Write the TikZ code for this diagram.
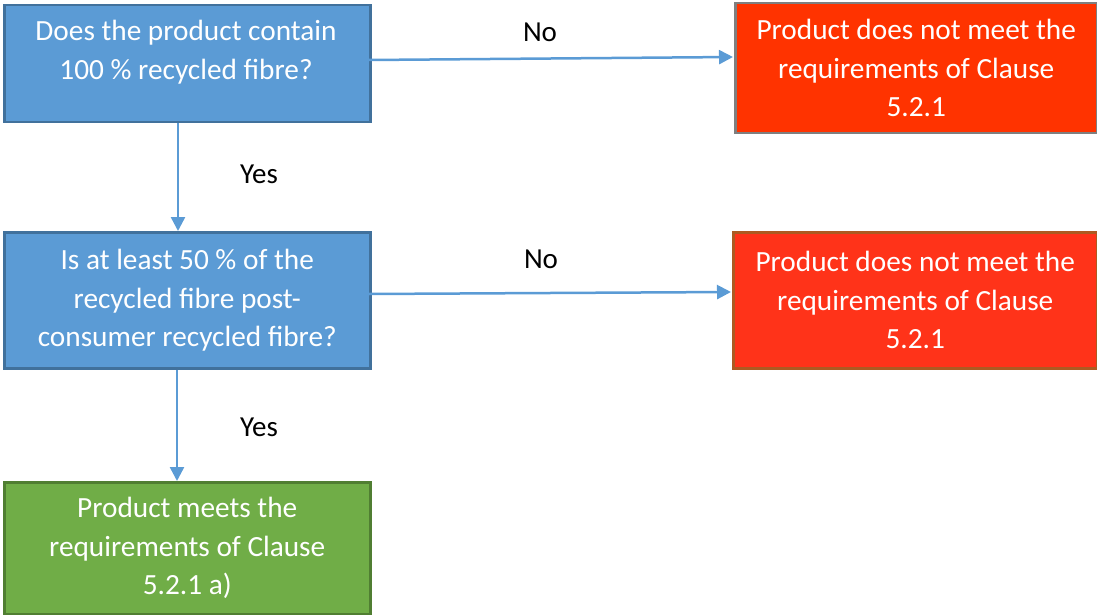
\documentclass[tikz,border=0pt]{standalone}
\usepackage{fontspec}
\setmainfont{Carlito}
\usetikzlibrary{arrows.meta}
\definecolor{bfill}{HTML}{5B9BD5}
\definecolor{bdraw}{HTML}{41719C}
\definecolor{rfillA}{HTML}{FF3300}
\definecolor{rdrawA}{HTML}{7F7F7F}
\definecolor{rfillB}{HTML}{FF3319}
\definecolor{rdrawB}{HTML}{AE5A21}
\definecolor{gfill}{HTML}{70AD47}
\definecolor{gdraw}{HTML}{507E32}
\tikzset{
  box/.style={draw, line width=2.5pt, inner sep=0pt, text=white, align=center,
    font=\fontsize{29.3}{38.5}\selectfont},
  bluebox/.style={box, fill=bfill, draw=bdraw},
  redboxA/.style={box, fill=rfillA, draw=rdrawA},
  redboxB/.style={box, fill=rfillB, draw=rdrawB},
  greenbox/.style={box, fill=gfill, draw=gdraw},
  boxtext/.style={text=white, align=center, inner sep=0pt, font=\fontsize{29.3}{38.5}\selectfont},
  conn/.style={draw=bfill, line width=2.5pt, -{Triangle[length=14pt,width=14pt]}},
  lbl/.style={font=\fontsize{29}{32}\selectfont, text=black}
}
\begin{document}
\begin{tikzpicture}[x=1pt,y=-1pt]
\useasboundingbox (0,0) rectangle (1097,615);
\node[bluebox, minimum width=366pt, minimum height=117pt, anchor=north west] (A) at (3,4) {};
\node[boxtext] (At) at (186,52) {Does the product contain\\100 \% recycled fibre?};
\node[redboxA, minimum width=362pt, minimum height=130pt, anchor=north west] (B) at (734,2)
  {Product does not meet the\\requirements of Clause\\5.2.1};
\node[bluebox, minimum width=366pt, minimum height=136pt, anchor=north west] (C) at (3,231)
  {Is at least 50 \% of the\\recycled fibre post-\\consumer recycled fibre?};
\node[redboxB, minimum width=364pt, minimum height=136pt, anchor=north west] (D) at (732,231)
  {Product does not meet the\\requirements of Clause\\5.2.1};
\node[greenbox, minimum width=366pt, minimum height=132pt, anchor=north west] (E) at (3,481)
  {Product meets the\\requirements of Clause\\5.2.1 a)};
\coordinate (a1) at (369,60);
\coordinate (b1) at (733,57);
\coordinate (c1) at (369,294);
\coordinate (d1) at (731,292);
\draw[conn] (a1) -- (b1);
\draw[conn] (c1) -- (d1);
\draw[conn] (A.south -| 178,0) -- (C.north -| 178,0);
\draw[conn] (C.south -| 177,0) -- (E.north -| 177,0);
\node[lbl] (n1) at (540,32) {No};
\node[lbl] (n2) at (541,259) {No};
\node[lbl] (y1) at (259,174) {Yes};
\node[lbl] (y2) at (259,427) {Yes};
\end{tikzpicture}
\end{document}
